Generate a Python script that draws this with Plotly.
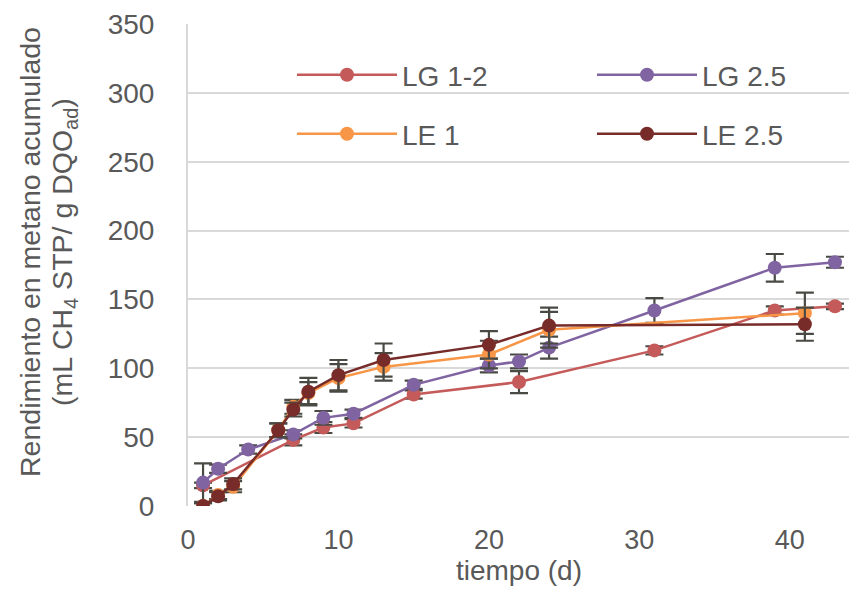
import plotly.graph_objects as go

# ---- data ----
days_lg12 = [1, 7, 9, 11, 15, 22, 31, 39, 43]
vals_lg12 = [15, 48, 57, 60, 81, 90, 113, 142, 145]
err_lg12 = [2, 4, 4, 3, 3, 8, 3, 3, 2]

days_lg25 = [1, 2, 4, 7, 9, 11, 15, 20, 22, 24, 31, 39, 43]
vals_lg25 = [17, 27, 41, 52, 64, 67, 88, 102, 105, 115, 142, 173, 177]
err_lg25 = [14, 3, 3, 3, 5, 3, 3, 5, 5, 8, 9, 10, 4]

days_le1 = [1, 2, 3, 6, 7, 8, 10, 13, 20, 24, 41]
vals_le1 = [0, 8, 14, 55, 72, 82, 93, 101, 110, 128, 140]
err_le1 = [2, 3, 4, 5, 5, 8, 10, 10, 10, 13, 15]

days_le25 = [1, 2, 3, 6, 7, 8, 10, 13, 20, 24, 41]
vals_le25 = [0, 7, 16, 55, 70, 83, 95, 106, 117, 131, 132]
err_le25 = [2, 3, 4, 5, 5, 10, 11, 12, 10, 13, 12]

names = ["LG 1-2", "LG 2.5", "LE 1", "LE 2.5"]
colors = ["#C55A5A", "#8064A2", "#F79646", "#772C2A"]
xs = [days_lg12, days_lg25, days_le1, days_le25]
ys = [vals_lg12, vals_lg25, vals_le1, vals_le25]
errs = [err_lg12, err_lg25, err_le1, err_le25]
legend_ids = ["legend", "legend2", "legend3", "legend4"]

y_title_1 = "Rendimiento en metano acumulado"
y_title_2 = "(mL CH<sub>4</sub> STP/ g DQO<sub>ad</sub>)"
x_title = "tiempo (d)"

FONT = "Liberation Sans, Arial, sans-serif"
GRAY = "#595959"

# page body has an 8px margin: work in figure coordinates
OFF = 8
W, H = 857 - OFF, 592 - OFF
L, R, T, B = 188 - OFF, 850 - OFF, 24 - OFF, 506 - OFF
PW, PH = R - L, B - T

fig = go.Figure()
for name, c, x, y, e, lg in zip(names, colors, xs, ys, errs, legend_ids):
    fig.add_trace(go.Scatter(
        x=x, y=y, name=name, mode="lines+markers",
        line=dict(color=c, width=2.5),
        marker=dict(color=c, size=14),
        error_y=dict(type="data", array=e, visible=True,
                     color="#4A4A44", thickness=2.2, width=9),
        legend=lg, showlegend=True,
    ))

leg_common = dict(font=dict(family=FONT, size=28, color=GRAY),
                  bgcolor="rgba(0,0,0,0)", itemwidth=100,
                  xanchor="left", yanchor="middle",
                  xref="paper", yref="paper")
col1, col2 = 292 - OFF, 592 - OFF
row1, row2 = 75 - OFF, 134 - OFF
fig.update_layout(
    showlegend=True,
    legend=dict(x=(col1 - L) / PW, y=(B - row1) / PH, **leg_common),
    legend2=dict(x=(col2 - L) / PW, y=(B - row1) / PH, **leg_common),
    legend3=dict(x=(col1 - L) / PW, y=(B - row2) / PH, **leg_common),
    legend4=dict(x=(col2 - L) / PW, y=(B - row2) / PH, **leg_common),
)

# y-axis title lines (rotated text)
for txt, px in [(y_title_1, 30 - OFF), (y_title_2, 64 - OFF)]:
    fig.add_annotation(text=txt, textangle=-90, showarrow=False,
                       xref="paper", yref="paper",
                       x=(px - L) / PW, y=(B - (252 - OFF)) / PH,
                       xanchor="center", yanchor="middle",
                       font=dict(family=FONT, size=28.5, color=GRAY))

fig.update_layout(
    width=W, height=H,
    margin=dict(l=L, r=W - R, t=T, b=H - B, autoexpand=False),
    plot_bgcolor="white", paper_bgcolor="white",
    font=dict(family=FONT, color=GRAY),
    xaxis=dict(range=[0, 44], tickvals=[0, 10, 20, 30, 40], automargin=False,
               showgrid=False, zeroline=False, showline=False,
               ticks="outside", ticklen=10, tickcolor="rgba(0,0,0,0)",
               tickfont=dict(size=27, color=GRAY),
               title=dict(text=x_title, font=dict(size=28, color=GRAY), standoff=4)),
    yaxis=dict(range=[0, 350], dtick=50, automargin=False,
               showgrid=True, gridcolor="#D9D9D9", gridwidth=2,
               zeroline=False, showline=True, linecolor="#D9D9D9", linewidth=2,
               ticks="outside", ticklen=26, tickcolor="rgba(0,0,0,0)",
               tickfont=dict(size=28, color=GRAY)),
)

fig.write_html("out.html")
